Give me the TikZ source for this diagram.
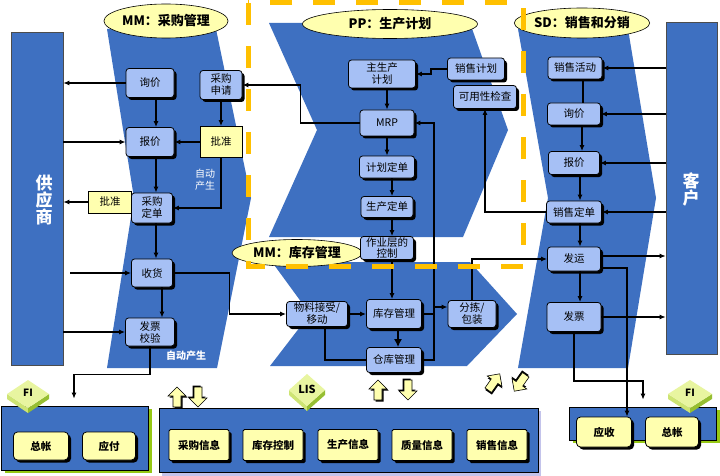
\documentclass[tikz,border=0pt]{standalone}
\usepackage{fontspec}
\setmainfont{Noto Sans CJK SC}
\usetikzlibrary{arrows.meta,shadows,calc,shapes.geometric}
\definecolor{band}{RGB}{62,112,193}
\definecolor{boxb}{RGB}{166,192,245}
\definecolor{yel}{RGB}{255,255,175}
\definecolor{dashc}{RGB}{255,192,0}
\definecolor{limec}{RGB}{150,200,20}
\definecolor{lavc}{RGB}{195,195,235}
\definecolor{diatop}{RGB}{232,245,160}
\definecolor{diaL}{RGB}{205,228,115}
\definecolor{diaR}{RGB}{150,190,50}
\tikzset{barrow/.pic={
  \fill[black,xshift=1.5pt,yshift=-1.5pt] (-4,10) -- (-4,-1) -- (-9,-1) -- (0,-10) -- (9,-1) -- (4,-1) -- (4,10) -- cycle;
  \filldraw[fill=yel,draw=black,line width=0.6pt] (-4,10) -- (-4,-1) -- (-9,-1) -- (0,-10) -- (9,-1) -- (4,-1) -- (4,10) -- cycle;
}}
\newcommand\isodia[4]{%
  \fill[diaL] (#1-#3,#2) -- (#1,#2+#4) -- (#1,#2+#4+5) -- (#1-#3,#2+5) -- cycle;
  \fill[diaR] (#1+#3,#2) -- (#1,#2+#4) -- (#1,#2+#4+5) -- (#1+#3,#2+5) -- cycle;
  \fill[diatop] (#1,#2-#4) -- (#1+#3,#2) -- (#1,#2+#4) -- (#1-#3,#2) -- cycle;}
\begin{document}
\begin{tikzpicture}[x=1pt,y=-1pt,
  conn/.style={line width=1.4pt},
  arr/.style={conn,-{Latex[length=6pt,width=5pt]}},
  bb/.style={draw=black,line width=0.8pt,rounded corners=3pt,fill=boxb,align=center,inner sep=0pt,
    font=\fontsize{10.5}{12}\selectfont,
    drop shadow={shadow xshift=2.5pt,shadow yshift=-2.5pt,fill=black,opacity=1}},
  yb/.style={draw=black,line width=0.8pt,fill=yel,align=center,inner sep=0pt,font=\fontsize{10.5}{12}\selectfont},
  yrb/.style={yb,rounded corners=4pt,font=\bfseries\fontsize{10.5}{12}\selectfont,
    drop shadow={shadow xshift=2.5pt,shadow yshift=-2.5pt,fill=black,opacity=1}},
  ell/.style={ellipse,draw=black,line width=0.6pt,fill=yel,inner sep=0pt,font=\bfseries\fontsize{13}{14}\selectfont},
  sz/.style 2 args={minimum width=#1,minimum height=#2},
  big/.style={fill=band,draw=black!70,line width=0.6pt,inner sep=0pt},
  vtxt/.style={text=white,align=center,font=\bfseries\fontsize{17}{17}\selectfont}
]
\useasboundingbox (0,0) rectangle (720,476);
\fill[white] (0,0) rectangle (720,476);

% bands
\fill[band] (107,29) -- (216,29) -- (251,198) -- (217,368) -- (107,368) -- (134,198) -- cycle;
\fill[band] (269,23) -- (470,23) -- (508,130) -- (463,237) -- (269,237) -- (317,130) -- cycle;
\fill[band] (272,262) -- (470,262) -- (517,314) -- (467,366) -- (270,366) -- (310,314) -- cycle;
\fill[band] (518,29) -- (628,29) -- (656,198) -- (628,368) -- (518,368) -- (548,198) -- cycle;

% side blocks
\node[big,sz={52}{333}] (sup) at (37,198.5) {};
\node[vtxt] (suptxt) at (44,200) {供\\应\\商};
\node[big,sz={51}{332}] (kh) at (691.5,188) {};
\node[vtxt] (khtxt) at (691,189) {客\\户};

% ellipses
\node[ell,sz={119}{34}] (e1) at (166,21) {MM：采购管理};
\node[ell,sz={175}{29}] (e2) at (390,24) {PP：生产计划};
\node[ell,sz={119}{30}] (e3) at (582,23) {SD：销售和分销};
\node[ell,sz={130}{27}] (e4) at (297,253) {MM：库存管理};

% MM purchasing
\node[bb,sz={48}{29}] (q1) at (150,83) {询价};
\node[bb,sz={42}{29}] (sq) at (221,85) {采购\\申请};
\node[yb,sz={42}{31}] (pz1) at (221,142) {批准};
\node[bb,sz={48}{29}] (bj1) at (150,142) {报价};
\node[yb,sz={43}{22}] (pz2) at (110,202) {批准};
\node[bb,sz={41}{30}] (cd) at (152,208) {采购\\定单};
\node[bb,sz={41}{28}] (sh) at (152,273) {收货};
\node[bb,sz={49}{28}] (fp) at (150,332) {发票\\校验};
\node[text=white,align=center,font=\fontsize{10}{12}\selectfont] (zd1) at (205,180) {自动\\产生};
\node[text=white,font=\bfseries\fontsize{10}{12}\selectfont] (zd2) at (186,356) {自动产生};

% PP
\node[bb,sz={67}{28}] (mps) at (382,74) {主生产\\计划};
\node[bb,sz={57}{22}] (xsjh) at (476,69) {销售计划};
\node[bb,sz={63}{23}] (kyx) at (485,97) {可用性检查};
\node[bb,sz={54}{26}] (mrp) at (387,123) {MRP};
\node[bb,sz={55}{22}] (jhdd) at (387,167) {计划定单};
\node[bb,sz={52}{21}] (scdd) at (387,207) {生产定单};
\node[bb,sz={53}{23},font=\fontsize{10.5}{11}\selectfont] (zyc) at (387,248) {作业层的\\控制};

% MM inventory
\node[bb,sz={61}{25}] (wl) at (317,314) {物料接受/\\移动};
\node[bb,sz={55}{29}] (kc) at (394,314) {库存管理};
\node[bb,sz={48}{27}] (fj) at (472,314) {分拣/\\包装};
\node[bb,sz={55}{25}] (ck) at (394,360) {仓库管理};

% SD
\node[bb,sz={54}{22}] (xshd) at (575,68) {销售活动};
\node[bb,sz={53}{22}] (xj2) at (574,114) {询价};
\node[bb,sz={51}{23}] (bj2) at (574,163) {报价};
\node[bb,sz={55}{22}] (xsdd) at (574,212) {销售定单};
\node[bb,sz={53}{24}] (fy) at (574,259) {发运};
\node[bb,sz={54}{29}] (fp2) at (574,317) {发票};

% bottom containers
\fill[limec] (5,409) rectangle (152,473);
\node[big,draw=black,sz={147}{64}] (fi1) at (74.5,438) {};
\fill[lavc] (162,411) rectangle (541,476);
\node[big,draw=black,sz={379}{64}] (lis) at (348.5,440) {};
\fill[limec] (573,410) rectangle (720,443);
\node[big,draw=black,sz={147}{33}] (fi2) at (642.5,423.5) {};

\node[yrb,sz={55}{28}] (zz1) at (41,446) {总帐};
\node[yrb,sz={53}{28}] (yf) at (109,446) {应付};
\node[yrb,sz={60}{31},rounded corners=1.5pt] (l1) at (199,445) {采购信息};
\node[yrb,sz={60}{31},rounded corners=1.5pt] (l2) at (273,445) {库存控制};
\node[yrb,sz={60}{31},rounded corners=1.5pt] (l3) at (348,445) {生产信息};
\node[yrb,sz={60}{31},rounded corners=1.5pt] (l4) at (422,445) {质量信息};
\node[yrb,sz={60}{31},rounded corners=1.5pt] (l5) at (497,445) {销售信息};
\node[yrb,sz={55}{30}] (ys) at (604,432) {应收};
\node[yrb,sz={53}{30}] (zz2) at (672,432) {总帐};

% iso diamonds
\isodia{28}{394}{21}{14}
\node[font=\bfseries\fontsize{10}{12}\selectfont] (fil) at (28,393) {FI};
\isodia{307}{390}{18}{16}
\node[font=\bfseries\fontsize{11}{12}\selectfont] (lisl) at (307,389) {LIS};
\isodia{690}{394}{22}{14}
\node[font=\bfseries\fontsize{10}{12}\selectfont] (fir) at (690,393) {FI};

% block arrows
\pic at (177,397) {barrow};
\pic[rotate=180] at (198,397) {barrow};
\pic at (378,390) {barrow};
\pic[rotate=180] at (408,390) {barrow};
\pic[rotate=-35] at (494,382) {barrow};
\pic[rotate=145] at (520,383) {barrow};

% connectors MM
\draw[arr] (q1.west) -- (q1.west -| sup.east);
\draw[arr] (sup.east |- bj1.west) -- (bj1.west);
\draw[arr] ([xshift=6]q1.south) -- ([xshift=6]q1.south |- bj1.north);
\draw[arr] (sq.south) -- (pz1.north);
\draw[arr] (pz1.west) -- (bj1.east);
\draw[arr] (pz1.south) |- (cd.east);
\draw[arr] ([xshift=6]bj1.south) -- ([xshift=6]bj1.south |- cd.north);
\draw[arr] (pz2.west) -- (pz2.west -| sup.east);
\draw[arr] ([xshift=4]cd.south) -- ([xshift=4]cd.south |- sh.north);
\draw[arr] ([xshift=7]sup.east |- sh.west) -- (sh.west);
\draw[arr] ([xshift=10]sh.south) -- ([xshift=10]sh.south |- fp.north);
\draw[arr] (sup.east |- fp.west) -- (fp.west);
\draw[arr] (sh.east) -| ($(sh.east)!.5!(wl.west)$) |- (wl.west);
\draw[arr] (fp.south) -- ++(0,28) -| ([xshift=-0.5pt,yshift=7pt]fi1.north);
\draw[arr] (mrp.west) -- ++(-59,0) |- (sq.east);

% connectors PP
\draw[arr] (xsjh.west) -- ++(-16,0) |- (mps.east);
\draw[arr] (mps.south -| mrp.north) -- (mrp.north);
\draw[arr] (mrp.south) -- (jhdd.north);
\draw[arr] ([xshift=5]jhdd.south) -- ([xshift=5]jhdd.south |- scdd.north);
\draw[arr] ([xshift=5]scdd.south) -- ([xshift=5]scdd.south |- zyc.north);
\draw[arr] ([xshift=5]zyc.south) -- ([xshift=5]zyc.south |- kc.north);
\draw[arr] (wl.east) -- (kc.west);
\draw[conn,-{Latex[length=8pt,width=8pt]}] ([xshift=4]kc.south) -- ([xshift=4]kc.south |- ck.north);
\draw[conn] ([xshift=8]wl.south) |- (ck.west);
\draw[conn] (kc.east) -- ++(12,0);
\draw[arr] (ck.east) -- ++(12,0) |- (mrp.east);
\draw[arr] ([xshift=12,yshift=7]kc.east) -- ([yshift=7]fj.west);
\draw[arr] (fj.north) |- (fy.west);

% connectors SD
\draw[arr] (kh.west |- xshd.east) -- (xshd.east);
\draw[conn] ([xshift=8]xshd.south) -- ([xshift=8]xshd.south |- xj2.north);
\draw[arr] (kh.west |- xj2.east) -- (xj2.east);
\draw[arr] ([xshift=8]xj2.south) -- ([xshift=8]xj2.south |- bj2.north);
\draw[arr] (kh.west |- bj2.east) -- (bj2.east);
\draw[arr] ([xshift=6]bj2.south) -- ([xshift=6]bj2.south |- xsdd.north);
\draw[arr] (kh.west |- xsdd.east) -- (xsdd.east);
\draw[arr] (xsdd.west) -| (kyx.south);
\draw[arr] ([xshift=6]xsdd.south) -- ([xshift=6]xsdd.south |- fy.north);
\draw[arr] ([yshift=3]fy.east) -- ([yshift=3]fy.east -| kh.west);
\draw[arr] ([xshift=6]fy.south) -- ([xshift=6]fy.south |- fp2.north);
\draw[arr] (fp2.east) -- (fp2.east -| kh.west);
\draw[arr] ([yshift=-9]fy.east) -| ([xshift=23]ys.north);
\draw[arr] (fp2.south) -- ++(0,49) -| ([xshift=0.5pt,yshift=7pt]fi2.north);

% dashed PP frame
\draw[dashc,line width=5pt,dash pattern=on 22pt off 21pt] (248,3) rectangle (523,266);
\end{tikzpicture}
\end{document}
